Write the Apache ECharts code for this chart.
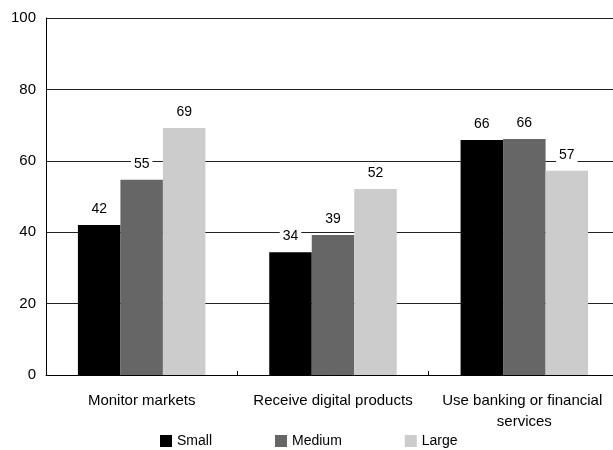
<!DOCTYPE html>
<html><head><meta charset="utf-8">
<script src="https://cdn.jsdelivr.net/npm/echarts@6/dist/echarts.min.js"></script>
<style>html,body{margin:0;padding:0;background:#fff}#c{width:613px;height:450px}</style>
</head><body><div id="c"></div>
<script>
const categories = ['Monitor markets', 'Receive digital products', 'Use banking or financial services'];
const small = [42.0, 34.4, 65.8];
const medium = [54.7, 39.2, 66.1];
const large = [69.2, 52.1, 57.2];
const yTicks = [0, 20, 40, 60, 80, 100];
const seriesNames = ['Small', 'Medium', 'Large'];
const colors = ['#000000', '#666666', '#cccccc'];

const font = 'Liberation Sans, Arial, sans-serif';
const chart = echarts.init(document.getElementById('c'), null, {renderer: 'canvas'});
const label = {
  show: true, position: 'top', distance: 8, color: '#000', fontSize: 14, fontFamily: font,
  backgroundColor: '#fff', padding: [1, 3],
  formatter: p => Math.round(p.value)
};
chart.setOption({
  animation: false,
  color: colors,
  grid: {left: 46, top: 18, width: 574, bottom: 75, outerBoundsMode: 'none'},
  legend: {
    data: seriesNames, left: 155, top: 429, itemWidth: 12, itemHeight: 12, itemGap: 63,
    icon: 'rect', textStyle: {fontSize: 14, fontFamily: font, color: '#000'}
  },
  xAxis: {
    type: 'category', data: categories,
    axisLine: {lineStyle: {color: '#000', width: 1}},
    axisTick: {show: true, inside: true, length: 4, lineStyle: {color: '#000'}},
    axisLabel: {fontSize: 15, fontFamily: font, color: '#000', margin: 15, lineHeight: 21,
      width: 185, overflow: 'break', interval: 0}
  },
  yAxis: {
    type: 'value', min: yTicks[0], max: yTicks[yTicks.length - 1], interval: 20,
    axisLine: {show: true, lineStyle: {color: '#000', width: 1}},
    axisTick: {show: false},
    axisLabel: {fontSize: 15, fontFamily: font, color: '#000', margin: 10},
    splitLine: {show: true, lineStyle: {color: '#222', width: 1}}
  },
  series: [
    {name: seriesNames[0], type: 'bar', data: small, barWidth: 42.5, barGap: '0%', label},
    {name: seriesNames[1], type: 'bar', data: medium, barWidth: 42.5, barGap: '0%', label},
    {name: seriesNames[2], type: 'bar', data: large, barWidth: 42.5, barGap: '0%', label}
  ]
});
</script></body></html>
